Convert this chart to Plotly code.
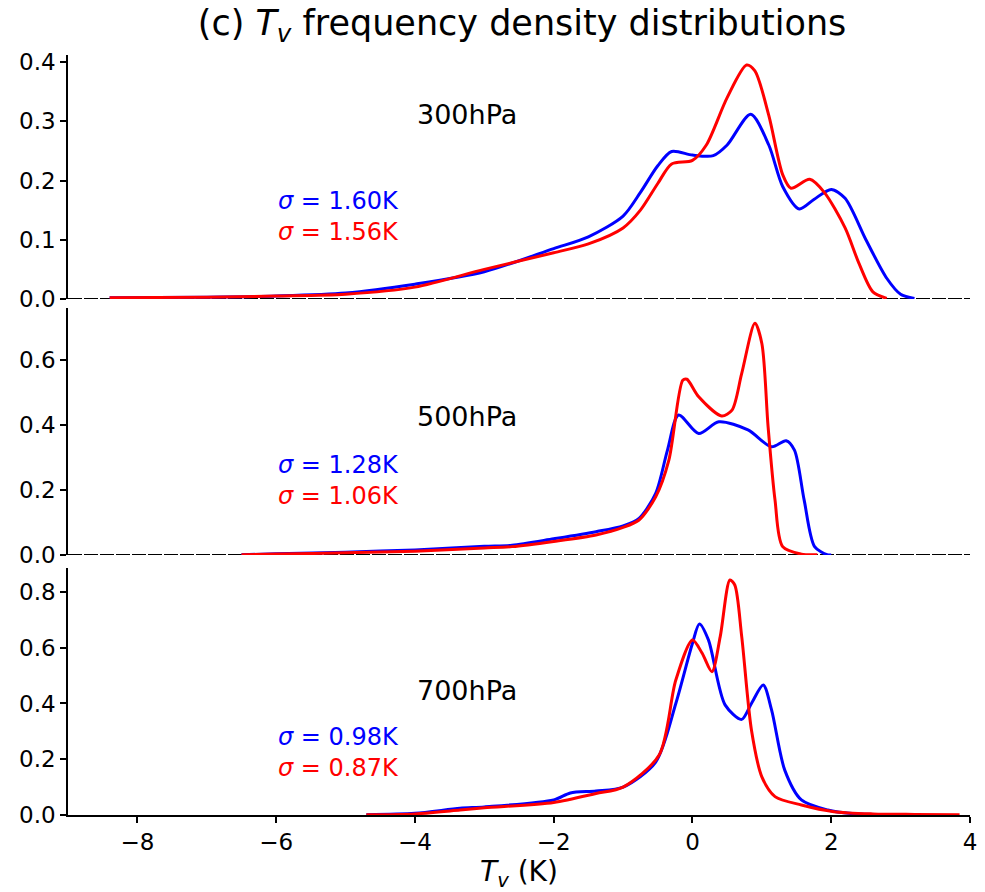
import plotly.graph_objects as go

# ---- data ----
x300_blue = [-8.4, -7, -6, -5, -4, -3, -2, -1.5, -1, -0.75, -0.5, -0.3, 0, 0.3, 0.5, 0.84, 1.1, 1.3, 1.54, 1.75, 2.0, 2.2, 2.5, 2.8, 3.0, 3.2]
y300_blue = [0.002, 0.003, 0.005, 0.01, 0.025, 0.046, 0.085, 0.105, 0.14, 0.18, 0.225, 0.249, 0.243, 0.242, 0.26, 0.312, 0.26, 0.19, 0.152, 0.168, 0.185, 0.17, 0.10, 0.035, 0.008, 0.001]
x300_red = [-8.4, -7, -6, -5, -4, -3, -2, -1.5, -1, -0.75, -0.5, -0.3, 0, 0.2, 0.5, 0.78, 0.9, 1.1, 1.3, 1.42, 1.69, 1.9, 2.2, 2.4, 2.6, 2.8]
y300_red = [0.002, 0.003, 0.005, 0.008, 0.02, 0.05, 0.078, 0.093, 0.12, 0.15, 0.195, 0.228, 0.234, 0.26, 0.34, 0.395, 0.385, 0.31, 0.21, 0.187, 0.202, 0.18, 0.12, 0.06, 0.012, 0.001]

x500_blue = [-6.5, -6, -5, -4, -3, -2.6, -2, -1.39, -1.0, -0.77, -0.53, -0.36, -0.2, 0.09, 0.38, 0.8, 1.14, 1.35, 1.47, 1.61, 1.76, 1.94, 2.0]
y500_blue = [0.001, 0.004, 0.009, 0.016, 0.027, 0.03, 0.05, 0.072, 0.09, 0.113, 0.19, 0.323, 0.431, 0.374, 0.41, 0.385, 0.333, 0.352, 0.323, 0.169, 0.026, 0.001, 0.0]
x500_red = [-6.5, -6, -5, -4, -3, -2.6, -2, -1.39, -1.0, -0.77, -0.53, -0.34, -0.14, -0.08, 0.09, 0.42, 0.57, 0.71, 0.9, 1.0, 1.09, 1.19, 1.3, 1.57, 1.8]
y500_red = [0.001, 0.003, 0.007, 0.012, 0.022, 0.026, 0.042, 0.062, 0.085, 0.108, 0.179, 0.292, 0.538, 0.541, 0.487, 0.428, 0.446, 0.559, 0.713, 0.651, 0.395, 0.169, 0.026, 0.003, 0.001]

x700_blue = [-4.7, -4.0, -3.35, -3.0, -2.0, -1.76, -1.39, -1.0, -0.53, -0.24, 0.0, 0.1, 0.23, 0.47, 0.71, 0.85, 1.02, 1.14, 1.33, 1.57, 1.95, 2.3, 2.8]
y700_blue = [0.001, 0.006, 0.024, 0.029, 0.054, 0.079, 0.086, 0.10, 0.19, 0.40, 0.616, 0.685, 0.628, 0.395, 0.343, 0.40, 0.466, 0.377, 0.161, 0.054, 0.018, 0.005, 0.001]
x700_red = [-4.7, -4.0, -3.35, -3.0, -2.0, -1.39, -1.0, -0.48, -0.24, 0.0, 0.14, 0.28, 0.4, 0.54, 0.61, 0.71, 0.85, 1.0, 1.19, 1.57, 2.04, 2.6, 3.2, 3.85]
y700_red = [0.001, 0.004, 0.018, 0.026, 0.045, 0.077, 0.10, 0.215, 0.484, 0.628, 0.58, 0.514, 0.64, 0.843, 0.825, 0.64, 0.305, 0.137, 0.066, 0.036, 0.012, 0.004, 0.002, 0.001]

levels = ["300hPa", "500hPa", "700hPa"]
sigma_blue = ["1.60", "1.28", "0.98"]
sigma_red = ["1.56", "1.06", "0.87"]
y_tops = [0.412, 0.76, 0.886]
y_ticks = [[0, 0.1, 0.2, 0.3, 0.4], [0, 0.2, 0.4, 0.6], [0, 0.2, 0.4, 0.6, 0.8]]
x_ticks = [-8, -6, -4, -2, 0, 2, 4]

BLUE = "#0000ff"
RED = "#ff0000"
FONT = "DejaVu Sans"

series = [
    (x300_blue, y300_blue, x300_red, y300_red),
    (x500_blue, y500_blue, x500_red, y500_red),
    (x700_blue, y700_blue, x700_red, y700_red),
]

domains = [[0.679, 1.0], [0.342, 0.667], [0.0, 0.325]]
# (level label y, sigma block centre y) in data units of each panel
label_y = [(0.312, 0.139), (0.425, 0.231), (0.448, 0.226)]

fig = go.Figure()
for i, (xb, yb, xr, yr) in enumerate(series):
    xa = "x" if i == 0 else f"x{i+1}"
    ya = "y" if i == 0 else f"y{i+1}"
    fig.add_trace(go.Scatter(x=xb, y=yb, mode="lines", line=dict(color=BLUE, width=3, shape="spline", smoothing=0.8),
                             xaxis=xa, yaxis=ya, showlegend=False))
    fig.add_trace(go.Scatter(x=xr, y=yr, mode="lines", line=dict(color=RED, width=3, shape="spline", smoothing=0.8),
                             xaxis=xa, yaxis=ya, showlegend=False))

layout = dict(
    width=985, height=892,
    margin=dict(l=68, r=8, t=55, b=77),
    paper_bgcolor="white", plot_bgcolor="white",
    font=dict(family=FONT, color="black"),
    title=dict(text="(c) <i>T<sub>v</sub></i> frequency density distributions", x=0.53, xanchor="center",
               y=0.975, yanchor="middle", font=dict(size=35, family=FONT)),
)

for i in range(3):
    xk = "xaxis" if i == 0 else f"xaxis{i+1}"
    yk = "yaxis" if i == 0 else f"yaxis{i+1}"
    ya = "y" if i == 0 else f"y{i+1}"
    bottom = (i == 2)
    layout[xk] = dict(
        range=[-9, 4], anchor=ya, domain=[0, 1],
        showgrid=False, zeroline=False,
        showline=bottom, linecolor="black", linewidth=1.5,
        ticks="outside" if bottom else "", tickvals=x_ticks,
        ticktext=["\u2212" + str(-v) if v < 0 else str(v) for v in x_ticks],
        ticklen=6, tickwidth=1.5, tickcolor="black",
        showticklabels=bottom, tickfont=dict(size=23, family=FONT),
    )
    if bottom:
        layout[xk]["title"] = dict(text="<i>T<sub>v</sub></i> (K)", font=dict(size=28, family=FONT), standoff=8)
    if i > 0:
        layout[xk]["matches"] = "x"
    layout[yk] = dict(
        range=[0, y_tops[i]], domain=domains[i], anchor="x" if i == 0 else f"x{i+1}",
        showgrid=False, zeroline=False, showline=True, linecolor="black", linewidth=1.5,
        ticks="outside", ticklen=6, tickwidth=1.5, tickcolor="black",
        tickvals=y_ticks[i], ticktext=[f"{v:.1f}" for v in y_ticks[i]],
        tickfont=dict(size=23, family=FONT),
    )

fig.update_layout(**layout)

shapes = []
annotations = []
for i in range(3):
    xr_ = "x" if i == 0 else f"x{i+1}"
    yr_ = "y" if i == 0 else f"y{i+1}"
    if i < 2:
        shapes.append(dict(type="line", xref=xr_, yref=yr_, x0=-9, x1=4, y0=0, y1=0,
                           line=dict(color="black", width=2, dash="14px,2px"), layer="below"))
    ly, ls = label_y[i]
    annotations.append(dict(text=levels[i], xref=xr_, yref=yr_, x=-4.0, y=ly, xanchor="left", yanchor="middle",
                            showarrow=False, font=dict(size=27, family=FONT, color="black")))
    sig_text = (f"<span style='color:{BLUE}'><i>σ</i> = {sigma_blue[i]}K</span><br>"
                f"<span style='color:{RED}'><i>σ</i> = {sigma_red[i]}K</span>")
    annotations.append(dict(text=sig_text, xref=xr_, yref=yr_, x=-6.0, y=ls, xanchor="left", align="left",
                            yanchor="middle", showarrow=False, font=dict(size=24, family=FONT)))

fig.update_layout(shapes=shapes, annotations=annotations)
fig.write_html("out.html")
